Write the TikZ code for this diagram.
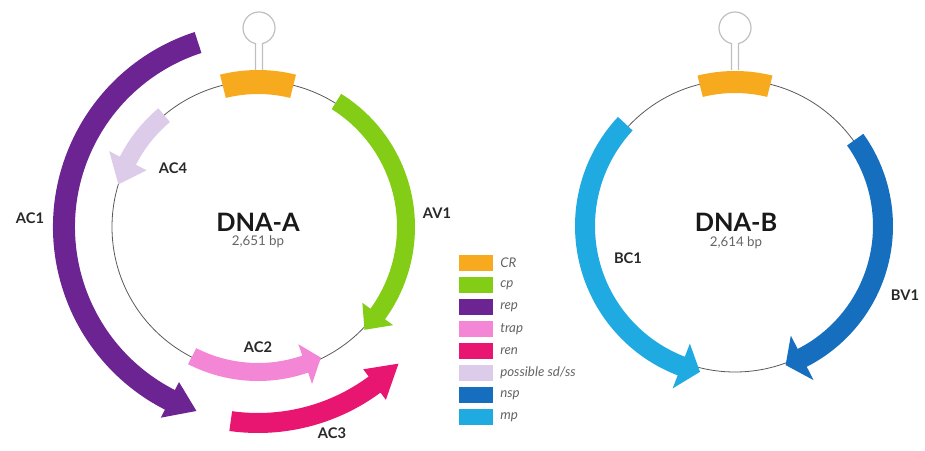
\documentclass[tikz,border=0pt]{standalone}
\usepackage{fontspec}
\setmainfont{Lato}
\usetikzlibrary{calc}

\definecolor{crorange}{RGB}{248,170,30}
\definecolor{cpgreen}{RGB}{132,205,22}
\definecolor{reppurple}{RGB}{108,36,146}
\definecolor{trappink}{RGB}{244,134,214}
\definecolor{renred}{RGB}{232,22,112}
\definecolor{sdlilac}{RGB}{220,204,234}
\definecolor{nspblue}{RGB}{22,110,190}
\definecolor{mpblue}{RGB}{32,170,226}
\definecolor{labelgray}{RGB}{40,40,40}
\definecolor{bpgray}{RGB}{100,100,100}

% center, start, head base, tip, radius, half band, half head, colour
\newcommand{\genearc}[8]{%
  \fill[#8] ($(#1)+(#2:{#5+#6})$) arc[start angle=#2, end angle=#3, radius={#5+#6}]
    -- ($(#1)+(#3:{#5+#7})$) -- ($(#1)+(#4:#5)$) -- ($(#1)+(#3:{#5-#7})$)
    -- ($(#1)+(#3:{#5-#6})$) arc[start angle=#3, end angle=#2, radius={#5-#6}] -- cycle;}

\tikzset{
  backbone/.style={draw=black!65, line width=0.6pt},
  hairpin/.style={draw=black!25, line width=0.9pt},
  genelabel/.style={font=\bfseries\fontsize{11}{13}\selectfont, text=labelgray},
  dnaname/.style={font=\bfseries\fontsize{19}{21}\selectfont, text=black!90, inner sep=0.5pt},
  bplabel/.style={font=\fontsize{10}{12}\selectfont, text=bpgray, inner sep=0.5pt},
  keybox/.style={minimum width=25pt, minimum height=12.5pt, inner sep=0pt},
  keytext/.style={font=\itshape\fontsize{10}{12}\selectfont, text=bpgray, anchor=west, inner sep=0pt}
}

\begin{document}
\begin{tikzpicture}[x=0.75pt,y=0.75pt]
    \useasboundingbox (0,0) rectangle (925,450);
    \coordinate (dnaa) at (258,223);
    \coordinate (dnab) at (735,224);

    \draw[backbone] (dnaa) circle[radius=146];
    \draw[backbone] (dnab) circle[radius=146];

    \fill[crorange] ($(dnaa)+(76:157)$) arc[start angle=76, end angle=104, radius=157]
        -- ($(dnaa)+(104:133)$) arc[start angle=104, end angle=76, radius=133] -- cycle;
    \fill[crorange] ($(dnab)+(76:155)$) arc[start angle=76, end angle=104, radius=155]
        -- ($(dnab)+(104:133)$) arc[start angle=104, end angle=76, radius=133] -- cycle;

    \draw[hairpin] (255.5,380) -- ($(259,422)+(257.4:16)$)
        arc[start angle=257.4, end angle=-77.4, radius=16] -- (262.5,380);
    \draw[hairpin] (731.5,380) -- ($(735,422)+(257.4:16)$)
        arc[start angle=257.4, end angle=-77.4, radius=16] -- (738.5,380);

    \genearc{dnaa}{58}{-36}{-44}{148}{9}{19}{cpgreen}
    \genearc{dnaa}{108}{243}{251.5}{194}{11}{20}{reppurple}
    \genearc{dnaa}{130}{153}{163}{146}{9}{21}{sdlilac}
    \genearc{dnaa}{-117}{-71}{-64.3}{145}{9}{21}{trappink}
    \genearc{dnaa}{-98}{-53.5}{-44.2}{196}{10}{19}{renred}
    \genearc{dnab}{137}{249}{256.5}{150}{10}{24}{mpblue}
    \genearc{dnab}{35.7}{-63}{-70}{148}{10}{25}{nspblue}

    \node[dnaname] (namea) at (258,228) {DNA-A};
    \node[bplabel] (sizea) at (258,208) {2,651 bp};
    \node[dnaname] (nameb) at (736,228) {DNA-B};
    \node[bplabel] (sizeb) at (736,207) {2,614 bp};

    \node[genelabel] (acone) at (30,232) {AC1};
    \node[genelabel] (acfour) at (173,282) {AC4};
    \node[genelabel] (avone) at (437,237) {AV1};
    \node[genelabel] (actwo) at (258,103) {AC2};
    \node[genelabel] (acthree) at (332,17) {AC3};
    \node[genelabel] (bcone) at (628,192) {BC1};
    \node[genelabel] (bvone) at (905,155) {BV1};

    \node[keybox, fill=crorange] (keycr) at (476,187) {};
    \node[keytext] at (500,187) {CR};
    \node[keybox, fill=cpgreen] (keycp) at (476,165) {};
    \node[keytext] at (500,165) {cp};
    \node[keybox, fill=reppurple] (keyrep) at (476,143) {};
    \node[keytext] at (500,143) {rep};
    \node[keybox, fill=trappink] (keytrap) at (476,121) {};
    \node[keytext] at (500,121) {trap};
    \node[keybox, fill=renred] (keyren) at (476,99) {};
    \node[keytext] at (500,99) {ren};
    \node[keybox, fill=sdlilac] (keysd) at (476,77) {};
    \node[keytext] at (500,77) {possible sd/ss};
    \node[keybox, fill=nspblue] (keynsp) at (476,55) {};
    \node[keytext] at (500,55) {nsp};
    \node[keybox, fill=mpblue] (keymp) at (476,33) {};
    \node[keytext] at (500,33) {mp};
\end{tikzpicture}
\end{document}
